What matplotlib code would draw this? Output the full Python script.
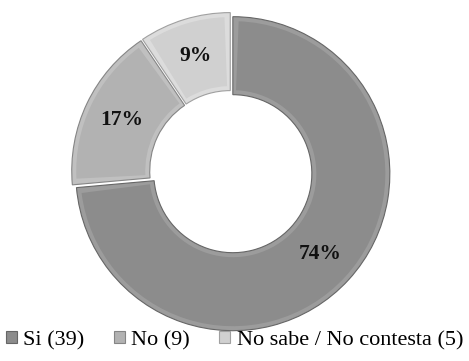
import math
import matplotlib.pyplot as plt
from matplotlib.patches import Patch, Wedge

# survey answers
labels = ['Si', 'No', 'No sabe / No contesta']
counts = [39, 9, 5]
colors = ['#8c8c8c', '#b2b2b2', '#d0d0d0']
bevels = ['#9c9c9c', '#c0c0c0', '#dcdcdc']
edges = ['#666666', '#858585', '#a0a0a0']

plt.rcParams['font.family'] = ['Liberation Serif', 'DejaVu Serif']

fig = plt.figure(figsize=(4.69, 3.61), dpi=100)
ax = fig.add_axes([0, 0, 1, 1])

wedges, texts, autotexts = ax.pie(
    counts, center=(231, 189), radius=157, startangle=90, counterclock=False,
    colors=bevels, explode=[2.5] * 3, pctdistance=0.755,
    autopct=lambda p: f'{p:.0f}%',
    wedgeprops=dict(width=78, linewidth=0.8),
    textprops=dict(fontsize=15.5, fontweight='bold', color='#111111'),
    frame=True)

# bevel: an inset copy of every wedge in the flat colour
inset = 4.5
for w, c, e in zip(wedges, colors, edges):
    w.set_edgecolor(e)
    r_mid = w.r - w.width / 2
    da = math.degrees(inset / r_mid)
    ax.add_patch(Wedge(w.center, w.r - inset, w.theta1 + da, w.theta2 - da,
                       width=w.width - 2 * inset, facecolor=c, edgecolor='none',
                       zorder=w.get_zorder() + 0.1))
for t in autotexts:
    t.set_zorder(5)

ax.set_xlim(0, 469)
ax.set_ylim(0, 361)
ax.set_aspect('equal')
ax.axis('off')

handles = [Patch(facecolor=c, edgecolor=e, linewidth=0.8) for c, e in zip(colors, edges)]
names = [f'{l} ({n})' for l, n in zip(labels, counts)]
fig.legend(handles, names, loc='lower center', ncol=3, frameon=False,
           fontsize=16, handlelength=0.5, handleheight=0.5, handletextpad=0.3,
           columnspacing=1.3, bbox_to_anchor=(0.5, -0.025))

fig.savefig('out.png', dpi=100)
